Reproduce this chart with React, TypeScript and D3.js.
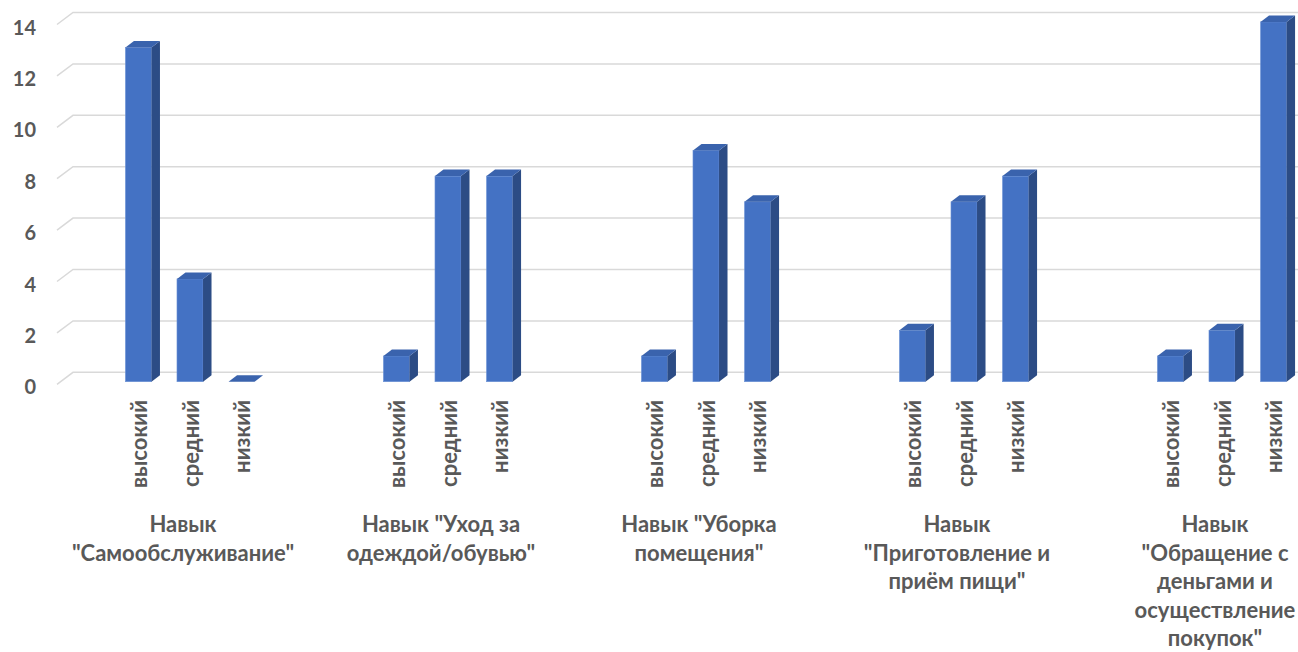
import React, { useEffect, useRef } from 'react';
import * as d3 from 'd3';

const skills = ['self', 'clothes', 'cleaning', 'cooking', 'money'];
const skillLabelLines = [
  ['Навык', '"Самообслуживание"'],
  ['Навык "Уход за', 'одеждой/обувью"'],
  ['Навык "Уборка', 'помещения"'],
  ['Навык', '"Приготовление и', 'приём пищи"'],
  ['Навык', '"Обращение с', 'деньгами и', 'осуществление', 'покупок"'],
];
const levels = ['высокий', 'средний', 'низкий'];
const highValues = [13, 1, 1, 2, 1];
const midValues = [4, 8, 9, 7, 2];
const lowValues = [0, 8, 7, 8, 14];
const yTicks = [0, 2, 4, 6, 8, 10, 12, 14];

const WIDTH = 1298;
const HEIGHT = 652;
const FONT = 'Lato, "Open Sans", sans-serif';
const TEXT = '#595959';

const App: React.FC = () => {
  const svgRef = useRef<SVGSVGElement>(null);

  useEffect(() => {
    document.body.style.margin = '0';
    if (!svgRef.current) return;

    const svg = d3.select(svgRef.current);
    svg.selectAll('*').remove();

    const series = [highValues, midValues, lowValues];

    // back wall and bar front planes
    const yWall = d3.scaleLinear().domain([0, 14]).range([372.3, 12.5]);
    const yBar = d3.scaleLinear().domain([0, 14]).range([381.7, 21.9]);

    const xGroup = d3.scaleBand().domain(skills).range([61, 1351]);
    const xLevel = d3.scaleBand()
      .domain(levels)
      .range([0, xGroup.bandwidth()])
      .paddingInner(0.495)
      .paddingOuter(1.25);

    const depthX = 8.5;
    const depthY = 6.5;
    const sideX = 16;
    const sideY = 12;

    // Grid lines
    svg.append('g')
      .selectAll('path')
      .data(yTicks)
      .join('path')
      .attr('d', t => `M ${73 - sideX} ${yWall(t) + sideY} L 73 ${yWall(t)} L ${WIDTH} ${yWall(t)}`)
      .attr('fill', 'none')
      .attr('stroke', '#d9d9d9')
      .attr('stroke-width', 1.5);

    // Y labels
    svg.append('g')
      .selectAll('text')
      .data(yTicks)
      .join('text')
      .attr('x', 36)
      .attr('y', t => yWall(t) + sideY + 2)
      .attr('text-anchor', 'end')
      .attr('dominant-baseline', 'central')
      .style('font-family', FONT)
      .style('font-weight', 'bold')
      .style('font-size', '20px')
      .style('fill', TEXT)
      .text(t => t);

    const front = '#4472c4';
    const topFace = '#3a63ad';
    const sideFace = '#2c4c85';

    // Bars
    skills.forEach((s, i) => {
      levels.forEach((lv, j) => {
        const v = series[j][i];
        const x0 = (xGroup(s) || 0) + (xLevel(lv) || 0);
        const w = xLevel.bandwidth();
        const top = yBar(v);
        const bottom = yBar(0);
        const g = svg.append('g');

        if (v > 0) {
          g.append('rect')
            .attr('x', x0)
            .attr('y', top)
            .attr('width', w)
            .attr('height', bottom - top)
            .attr('fill', front)
            .attr('stroke', '#6d93d6')
            .attr('stroke-width', 0.6);

          g.append('path')
            .attr('d', `M ${x0 + w} ${top} L ${x0 + w + depthX} ${top - depthY} L ${x0 + w + depthX} ${bottom - depthY} L ${x0 + w} ${bottom} Z`)
            .attr('fill', sideFace);
        }

        g.append('path')
          .attr('d', `M ${x0} ${top} L ${x0 + depthX} ${top - depthY} L ${x0 + w + depthX} ${top - depthY} L ${x0 + w} ${top} Z`)
          .attr('fill', topFace);

        // level label
        svg.append('text')
          .attr('transform', `translate(${x0 + w / 2}, 400) rotate(-90)`)
          .attr('text-anchor', 'end')
          .attr('dominant-baseline', 'central')
          .style('font-family', FONT)
          .style('font-weight', 'bold')
          .style('font-size', '22px')
          .style('fill', TEXT)
          .text(lv);
      });

      // category label
      const cx = (xGroup(s) || 0) + xGroup.bandwidth() / 2 - 7;
      const label = svg.append('text')
        .attr('text-anchor', 'middle')
        .style('font-family', FONT)
        .style('font-weight', 'bold')
        .style('font-size', '22px')
        .style('fill', TEXT);
      skillLabelLines[i].forEach((line, k) => {
        label.append('tspan')
          .attr('x', cx)
          .attr('y', 532 + k * 28.5)
          .text(line);
      });
    });
  }, []);

  return <svg ref={svgRef} width={WIDTH} height={HEIGHT} viewBox={`0 0 ${WIDTH} ${HEIGHT}`} style={{ display: 'block', background: '#fff' }} />;
};

export default App;
